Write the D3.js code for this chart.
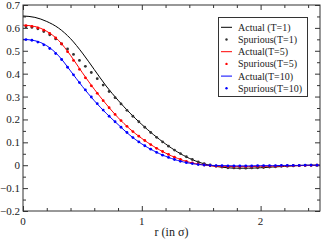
<!DOCTYPE html>
<html>
<head>
<meta charset="utf-8">
<script src="https://d3js.org/d3.v7.min.js"></script>
<style>
  body { margin: 0; background: #fff; }
  svg { display: block; }
</style>
</head>
<body>
<script>
// r grid for the smooth "actual" curves (step 0.1)
var rActual = d3.range(0, 26).map(function (i) { return i / 10; });
// r values of the spurious points (bin centres, step 0.05)
var rSpur = d3.range(0, 50).map(function (i) { return 0.025 + i * 0.05; });

var actualT1 = [0.652, 0.646, 0.628, 0.599, 0.553, 0.490, 0.418, 0.346, 0.284, 0.228,
  0.178, 0.133, 0.093, 0.058, 0.030, 0.010, -0.003, -0.010, -0.013, -0.013,
  -0.011, -0.008, -0.005, -0.002, 0.000, 0.000];
var actualT5 = [0.612, 0.606, 0.585, 0.545, 0.480, 0.404, 0.332, 0.267, 0.208, 0.158,
  0.117, 0.082, 0.053, 0.030, 0.013, 0.003, -0.003, -0.005, -0.006, -0.006,
  -0.005, -0.004, -0.003, -0.002, -0.001, 0.000];
var actualT10 = [0.550, 0.544, 0.522, 0.478, 0.412, 0.344, 0.282, 0.227, 0.178, 0.131,
  0.093, 0.063, 0.039, 0.021, 0.009, 0.002, -0.001, -0.002, -0.003, -0.003,
  -0.002, -0.002, -0.001, -0.001, 0.000, 0.000];

var spurT1 = [0.605, 0.602, 0.596, 0.584, 0.570, 0.552, 0.530, 0.508, 0.484, 0.458,
  0.432, 0.405, 0.378, 0.350, 0.322, 0.295, 0.268, 0.240, 0.214, 0.190,
  0.166, 0.143, 0.122, 0.102, 0.083, 0.066, 0.051, 0.037, 0.025, 0.015,
  0.007, 0.001, -0.004, -0.008, -0.011, -0.012, -0.013, -0.013, -0.012, -0.011,
  -0.010, -0.008, -0.007, -0.005, -0.004, -0.003, -0.002, -0.001, 0.000, 0.000];
var spurT5 = [0.610, 0.607, 0.600, 0.590, 0.576, 0.556, 0.530, 0.496, 0.458, 0.419,
  0.382, 0.347, 0.314, 0.282, 0.251, 0.222, 0.195, 0.170, 0.147, 0.127,
  0.108, 0.090, 0.074, 0.060, 0.047, 0.035, 0.025, 0.017, 0.010, 0.005,
  0.001, -0.002, -0.004, -0.005, -0.006, -0.006, -0.006, -0.006, -0.006, -0.005,
  -0.005, -0.004, -0.004, -0.003, -0.003, -0.002, -0.002, -0.001, -0.001, 0.000];
var spurT10 = [0.549, 0.546, 0.538, 0.526, 0.510, 0.488, 0.462, 0.428, 0.395, 0.361,
  0.329, 0.298, 0.269, 0.241, 0.214, 0.190, 0.166, 0.143, 0.121, 0.102,
  0.085, 0.070, 0.056, 0.044, 0.034, 0.025, 0.017, 0.011, 0.007, 0.003,
  0.001, -0.001, -0.002, -0.002, -0.003, -0.003, -0.003, -0.003, -0.003, -0.002,
  -0.002, -0.002, -0.002, -0.001, -0.001, -0.001, -0.001, 0.000, 0.000, 0.000];

var xTicks = [0, 1, 2];
var yTicks = [-0.2, -0.1, 0, 0.1, 0.2, 0.3, 0.4, 0.5, 0.6, 0.7];
var legendLabels = ["Actual (T=1)", "Spurious(T=1)", "Actual(T=5)", "Spurious(T=5)", "Actual(T=10)", "Spurious(T=10)"];

var W = 322, H = 240;
var m = { left: 23, right: 2, top: 5, bottom: 29 };
var serif = "'Liberation Serif', 'Times New Roman', Times, serif";

var svg = d3.select("body").append("svg").attr("width", W).attr("height", H)
  .attr("font-family", serif);

var x = d3.scaleLinear().domain([0, 2.5]).range([m.left, W - m.right]);
var y = d3.scaleLinear().domain([-0.2, 0.7]).range([H - m.bottom, m.top]);

// ticks (inward) on all four sides
var g = svg.append("g");
function tickAxis(axis, tr) {
  g.append("g").attr("transform", tr).call(axis)
    .call(function (s) { s.select(".domain").remove(); s.selectAll("text").remove(); s.selectAll("line").attr("stroke", "#333"); });
}
var xMinor = d3.range(0, 2.51, 0.2).filter(function (v) { return Math.abs(v - Math.round(v)) > 1e-6; });
var yMinor = d3.range(-0.15, 0.7, 0.1);
tickAxis(d3.axisBottom(x).tickValues(xTicks).tickSize(-5), "translate(0," + y(-0.2) + ")");
tickAxis(d3.axisBottom(x).tickValues(xMinor).tickSize(-3), "translate(0," + y(-0.2) + ")");
tickAxis(d3.axisTop(x).tickValues(xTicks).tickSize(-5), "translate(0," + y(0.7) + ")");
tickAxis(d3.axisTop(x).tickValues(xMinor).tickSize(-3), "translate(0," + y(0.7) + ")");
tickAxis(d3.axisLeft(y).tickValues(yTicks).tickSize(-5), "translate(" + x(0) + ",0)");
tickAxis(d3.axisLeft(y).tickValues(yMinor).tickSize(-3), "translate(" + x(0) + ",0)");
tickAxis(d3.axisRight(y).tickValues(yTicks).tickSize(-5), "translate(" + x(2.5) + ",0)");
tickAxis(d3.axisRight(y).tickValues(yMinor).tickSize(-3), "translate(" + x(2.5) + ",0)");

// tick labels
svg.selectAll("text.yl").data(yTicks).enter().append("text")
  .attr("x", x(0) - 3).attr("y", function (d) { return y(d) + 4; })
  .attr("text-anchor", "end").attr("font-size", 11).attr("fill", "#222")
  .text(function (d) { return d3.format("")(+d.toFixed(1)); });
svg.selectAll("text.xl").data(xTicks).enter().append("text")
  .attr("x", function (d) { return x(d); }).attr("y", y(-0.2) + 14)
  .attr("text-anchor", "middle").attr("font-size", 11).attr("fill", "#222")
  .text(function (d) { return d; });
svg.append("text").attr("x", (x(0) + x(2.5)) / 2).attr("y", 236)
  .attr("text-anchor", "middle").attr("font-size", 12).attr("fill", "#222").text("r (in σ)");

// curves
var series = [
  { a: actualT1, s: spurT1, c: "#000" },
  { a: actualT5, s: spurT5, c: "#ff0000" },
  { a: actualT10, s: spurT10, c: "#0000ff" }
];
var line = d3.line().x(function (d) { return x(d[0]); }).y(function (d) { return y(d[1]); })
  .curve(d3.curveMonotoneX);
var plot = svg.append("g");
series.forEach(function (sr) {
  plot.append("path").datum(d3.zip(rActual, sr.a))
    .attr("d", line).attr("fill", "none").attr("stroke", sr.c).attr("stroke-width", 1);
});
series.forEach(function (sr) {
  plot.selectAll(null).data(d3.zip(rSpur, sr.s)).enter().append("circle")
    .attr("cx", function (d) { return x(d[0]); }).attr("cy", function (d) { return y(d[1]); })
    .attr("r", 1.4).attr("fill", sr.c === "#000" ? "#333" : sr.c);
});

// frame
svg.append("rect").attr("x", x(0)).attr("y", y(0.7))
  .attr("width", x(2.5) - x(0)).attr("height", y(-0.2) - y(0.7))
  .attr("fill", "none").attr("stroke", "#333").attr("stroke-width", 1);

// legend
var lg = svg.append("g");
lg.append("rect").attr("x", 218.5).attr("y", 17.5).attr("width", 89).attr("height", 79)
  .attr("fill", "#fff").attr("stroke", "#333");
legendLabels.forEach(function (t, i) {
  var cy = 27.3 + i * 12.2;
  var c = series[Math.floor(i / 2)].c;
  if (i % 2 === 0) {
    lg.append("line").attr("x1", 221).attr("x2", 232).attr("y1", cy).attr("y2", cy)
      .attr("stroke", c).attr("stroke-width", 1);
  } else {
    lg.append("circle").attr("cx", 226.5).attr("cy", cy).attr("r", 1.2).attr("fill", c === "#000" ? "#333" : c);
  }
  lg.append("text").attr("x", 238).attr("y", cy + 3.5).attr("font-size", 10).attr("fill", "#222").text(t);
});
</script>
</body>
</html>
